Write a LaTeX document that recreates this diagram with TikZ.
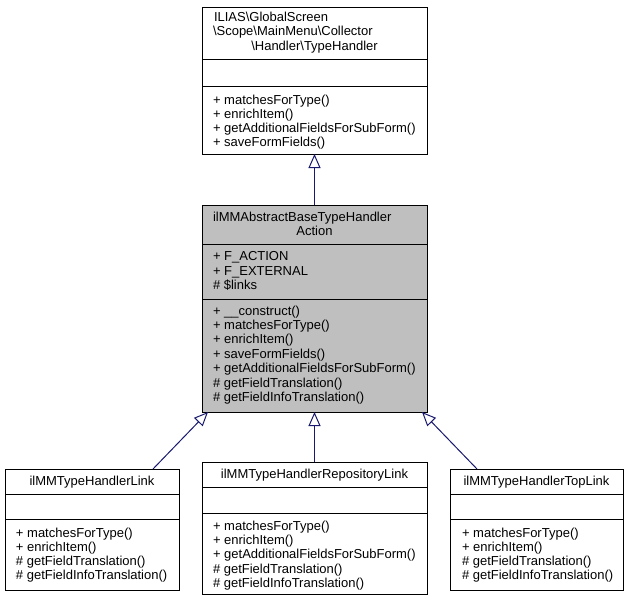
\documentclass[tikz,border=0pt]{standalone}
\usepackage{fontspec}
\setmainfont{Liberation Sans}
\usetikzlibrary{arrows.meta}
\definecolor{edgeblue}{HTML}{191970}
\definecolor{boxgray}{HTML}{BFBFBF}
\begin{document}
\begin{tikzpicture}[x=1pt,y=-1pt,
  classbox/.style={draw=black, line width=1pt, inner sep=0pt, outer sep=0pt, anchor=north west},
  divider/.style={draw=black, line width=1pt},
  txt/.style={anchor=base west, inner sep=0pt, outer sep=0pt, font=\fontsize{13}{14}\selectfont},
  ctxt/.style={anchor=base, inner sep=0pt, outer sep=0pt, font=\fontsize{13}{14}\selectfont},
  inh/.style={draw=edgeblue, line width=1pt, -{Triangle[open, length=14pt, width=12pt, line width=1pt, fill=white]}}
]
\useasboundingbox (0,0) rectangle (629,603);
\fill[white] (0,0) rectangle (629,603);

% ---------- top box ----------
\node[classbox, minimum width=225pt, minimum height=147pt] (topbox) at (202,7) {};
\draw[divider] (202,59) -- (427,59);
\draw[divider] (202,86) -- (427,86);
\node[txt] (ta1) at (214,21) {ILIAS\textbackslash GlobalScreen};
\node[txt] (ta2) at (213,35.5) {\textbackslash Scope\textbackslash MainMenu\textbackslash Collector};
\node[ctxt] (ta3) at (314.5,50) {\textbackslash Handler\textbackslash TypeHandler};
\node[txt] (tm1) at (213,104.5) {+ matchesForType()};
\node[txt] (tm2) at (213,118.5) {+ enrichItem()};
\node[txt] (tm3) at (213,132.5) {+ getAdditionalFieldsForSubForm()};
\node[txt] (tm4) at (213,146.5) {+ saveFormFields()};

% ---------- middle box ----------
\node[classbox, fill=boxgray, minimum width=225pt, minimum height=207pt] (midbox) at (202,205) {};
\draw[divider] (202,244) -- (427,244);
\draw[divider] (202,299) -- (427,299);
\node[txt] (ma1) at (213,221) {ilMMAbstractBaseTypeHandler};
\node[ctxt] (ma2) at (314.5,235) {Action};
\node[txt] (mf1) at (213,260.5) {+ F\_ACTION};
\node[txt] (mf2) at (213,275) {+ F\_EXTERNAL};
\node[txt] (mf3) at (213,289.5) {\# \$links};
\node[txt] (mm1) at (213,315) {+ \_\_construct()};
\node[txt] (mm2) at (213,329.4) {+ matchesForType()};
\node[txt] (mm3) at (213,343.8) {+ enrichItem()};
\node[txt] (mm4) at (213,358.2) {+ saveFormFields()};
\node[txt] (mm5) at (213,372.6) {+ getAdditionalFieldsForSubForm()};
\node[txt] (mm6) at (213,387) {\# getFieldTranslation()};
\node[txt] (mm7) at (213,401.4) {\# getFieldInfoTranslation()};

% ---------- bottom left ----------
\node[classbox, minimum width=174pt, minimum height=121pt] (lbox) at (5,469) {};
\draw[divider] (5,494) -- (179,494);
\draw[divider] (5,519) -- (179,519);
\node[ctxt] (la1) at (92,485.5) {ilMMTypeHandlerLink};
\node[txt] (lm1) at (16,537) {+ matchesForType()};
\node[txt] (lm2) at (16,551.2) {+ enrichItem()};
\node[txt] (lm3) at (16,565.4) {\# getFieldTranslation()};
\node[txt] (lm4) at (16,579.6) {\# getFieldInfoTranslation()};

% ---------- bottom middle ----------
\node[classbox, minimum width=225pt, minimum height=132pt] (cbox) at (202,462) {};
\draw[divider] (202,487) -- (427,487);
\draw[divider] (202,513) -- (427,513);
\node[ctxt] (ca1) at (314.5,478.5) {ilMMTypeHandlerRepositoryLink};
\node[txt] (cm1) at (213,530.5) {+ matchesForType()};
\node[txt] (cm2) at (213,544.7) {+ enrichItem()};
\node[txt] (cm3) at (213,558.9) {+ getAdditionalFieldsForSubForm()};
\node[txt] (cm4) at (213,573.1) {\# getFieldTranslation()};
\node[txt] (cm5) at (213,587.3) {\# getFieldInfoTranslation()};

% ---------- bottom right ----------
\node[classbox, minimum width=173pt, minimum height=121pt] (rbox) at (450,469) {};
\draw[divider] (450,494) -- (623,494);
\draw[divider] (450,519) -- (623,519);
\node[ctxt] (ra1) at (536.5,485.5) {ilMMTypeHandlerTopLink};
\node[txt] (rm1) at (462,537) {+ matchesForType()};
\node[txt] (rm2) at (462,551.2) {+ enrichItem()};
\node[txt] (rm3) at (462,565.4) {\# getFieldTranslation()};
\node[txt] (rm4) at (462,579.6) {\# getFieldInfoTranslation()};

% ---------- inheritance connectors ----------
\draw[inh] (midbox.north) -- (topbox.south);
\draw[inh] (cbox.north) -- (midbox.south);
\draw[inh] ([xshift=-26pt]lbox.north east) -- ([xshift=6pt]midbox.south west);
\draw[inh] ([xshift=27pt]rbox.north west) -- ([xshift=-5pt]midbox.south east);
\end{tikzpicture}
\end{document}
